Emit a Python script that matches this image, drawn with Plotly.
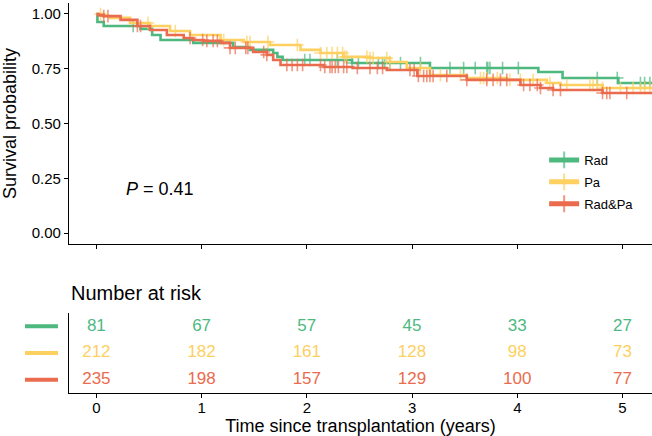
import numpy as np
import plotly.graph_objects as go

# Kaplan-Meier steps (time in years, survival probability)
rad_time = [0, 0.01, 0.07, 0.42, 0.53, 0.61, 0.92, 1.30, 1.46, 1.68, 1.72, 1.77, 2.43, 3.17, 4.20, 4.43, 4.96]
rad_surv = [1.0, 0.963, 0.945, 0.932, 0.904, 0.881, 0.868, 0.849, 0.836, 0.822, 0.804, 0.790, 0.776, 0.753, 0.735, 0.708, 0.685]
rad_cens = [0.35, 1.98, 2.03, 2.29, 2.43, 2.49, 2.68, 2.72, 2.74, 2.79, 2.89, 3.08, 3.17, 3.36, 3.49,
            3.60, 3.71, 3.72, 3.74, 3.86, 4.01, 4.76, 4.95, 5.17, 5.21, 5.26]

pa_time = [0, 0.07, 0.13, 0.32, 0.51, 0.70, 0.89, 1.18, 1.40, 1.65, 1.94, 2.13, 2.35, 2.60, 2.79, 2.95,
           3.17, 3.52, 3.90, 4.28, 4.41, 4.81]
pa_surv = [1.0, 0.99, 0.982, 0.959, 0.945, 0.922, 0.904, 0.881, 0.872, 0.858, 0.836, 0.822, 0.804, 0.799,
           0.781, 0.753, 0.721, 0.708, 0.699, 0.685, 0.676, 0.662]
pa_cens = [0.04, 0.49, 0.75, 1.21, 1.43, 1.46, 1.63, 1.91, 2.13, 2.19, 2.24, 2.29, 2.34, 2.36, 2.38, 2.57,
           2.60, 2.63, 2.76, 2.79, 3.08, 3.27, 3.46, 3.65, 3.68, 3.71, 3.81, 3.93, 4.03, 4.15, 4.31, 4.47,
           4.69, 4.72, 4.76, 4.81, 4.98, 5.10, 5.17, 5.21, 5.26]

radpa_time = [0, 0.02, 0.07, 0.23, 0.39, 0.51, 0.67, 0.83, 0.92, 1.02, 1.18, 1.27, 1.49, 1.62, 1.68, 1.75,
              2.16, 2.44, 2.76, 3.05, 3.52, 4.03, 4.22, 4.34, 4.81]
radpa_surv = [1.0, 0.995, 0.99, 0.973, 0.945, 0.927, 0.904, 0.890, 0.881, 0.877, 0.868, 0.845, 0.826, 0.813,
              0.790, 0.767, 0.758, 0.753, 0.744, 0.717, 0.699, 0.676, 0.662, 0.653, 0.639]
radpa_cens = [0.07, 0.11, 0.39, 0.42, 0.89, 1.01, 1.05, 1.11, 1.15, 1.27, 1.32, 1.42, 1.44, 1.59, 1.62,
              1.81, 1.86, 1.91, 1.96, 2.13, 2.17, 2.22, 2.24, 2.27, 2.30, 2.35, 2.38, 2.48, 2.60, 2.67,
              2.72, 2.98, 3.02, 3.06, 3.11, 3.14, 3.17, 3.20, 3.33, 3.52, 3.71, 3.77, 3.84, 3.90, 4.06,
              4.12, 4.19, 4.22, 4.34, 4.41, 4.81, 4.85, 4.88, 5.04]

follow_up_end = 5.4

# number at risk table
risk_times = [0, 1, 2, 3, 4, 5]
rad_risk = [81, 67, 57, 45, 33, 27]
pa_risk = [212, 182, 161, 128, 98, 73]
radpa_risk = [235, 198, 157, 129, 100, 77]

group_names = ['Rad', 'Pa', 'Rad&Pa']
colors = ['#4DB97F', '#FDD060', '#EA6B4D']

FONT = 'Liberation Sans, Arial, sans-serif'

groups = [
    (rad_time, rad_surv, rad_cens),
    (pa_time, pa_surv, pa_cens),
    (radpa_time, radpa_surv, radpa_cens),
]

fig = go.Figure()

for (times, surv, cens), name, color in zip(groups, group_names, colors):
    times = np.array(times + [follow_up_end])
    surv = np.array(surv + [surv[-1]])
    cens = np.array(cens)
    # censored points sit on the step curve
    cens_surv = surv[np.searchsorted(times, cens, side='right') - 1]
    x = np.concatenate([times, cens])
    y = np.concatenate([surv, cens_surv])
    size = np.concatenate([np.zeros(len(times)), np.full(len(cens), 9)])
    order = np.lexsort((-size, x))
    fig.add_trace(go.Scatter(
        x=x[order], y=y[order],
        mode='lines+markers',
        line=dict(shape='hv', color=color, width=2.6),
        marker=dict(symbol='cross-thin', size=size[order], color=color,
                    line=dict(width=1.6, color=color)),
        name=name, legendgroup=name,
        xaxis='x', yaxis='y',
        hoverinfo='skip'
    ))

# number at risk as text
for row, (risk, color) in enumerate(zip([rad_risk, pa_risk, radpa_risk], colors)):
    fig.add_trace(go.Scatter(
        x=risk_times, y=[3 - row] * len(risk_times),
        mode='text', text=[str(v) for v in risk],
        textfont=dict(color=color, size=17, family=FONT),
        showlegend=False, xaxis='x2', yaxis='y2', hoverinfo='skip'
    ))
    fig.add_shape(type='line', xref='paper', yref='y2',
                  x0=-0.0755, x1=-0.0189, y0=3 - row, y1=3 - row,
                  line=dict(color=color, width=4))

axis_common = dict(
    showgrid=False, zeroline=False, automargin=False,
    showline=True, linecolor='black', linewidth=1.3,
    ticks='outside', ticklen=4, tickwidth=1.3, tickcolor='black',
    tickfont=dict(size=15, color='black', family=FONT),
)

fig.update_layout(
    width=652, height=436,
    margin=dict(l=69, r=0, t=0, b=43),
    paper_bgcolor='white', plot_bgcolor='white',
    font=dict(family=FONT, color='black'),
    xaxis=dict(axis_common, domain=[0, 1], range=[-0.26, 5.28], anchor='y',
               tickvals=risk_times, showticklabels=False),
    yaxis=dict(axis_common, domain=[0.3791, 0.9924], range=[-0.05, 1.05], anchor='x',
               tickvals=[0, 0.25, 0.5, 0.75, 1.0], tickformat='.2f',
               title=dict(text='Survival probability', font=dict(size=18, family=FONT))),
    xaxis2=dict(axis_common, domain=[0, 1], range=[-0.26, 5.28], anchor='y2',
                tickvals=risk_times, ticklabelstandoff=-3,
                title=dict(text='Time since transplantation (years)', font=dict(size=18, family=FONT),
                           standoff=2)),
    yaxis2=dict(axis_common, domain=[0, 0.2036], range=[0.5, 3.5], anchor='x2',
                ticks='', showticklabels=False),
    legend=dict(x=0.815, y=0.631, xanchor='left', yanchor='top',
                font=dict(size=13, family=FONT), bgcolor='rgba(0,0,0,0)',
                itemsizing='constant', tracegroupgap=2),
    showlegend=True,
)

fig.add_annotation(x=0.6, y=0.2, xref='x', yref='y', text='<i>P</i> = 0.41',
                   showarrow=False, font=dict(size=18, family=FONT))
fig.add_annotation(x=0, y=0.2545, xref='paper', yref='paper', text='Number at risk',
                   xanchor='left', yanchor='middle', showarrow=False,
                   font=dict(size=20, family=FONT))

# page body has a default margin; remove it so the figure fills the window
fig.write_html('out.html', config={'displayModeBar': False},
               post_script="document.body.style.margin='0';")
